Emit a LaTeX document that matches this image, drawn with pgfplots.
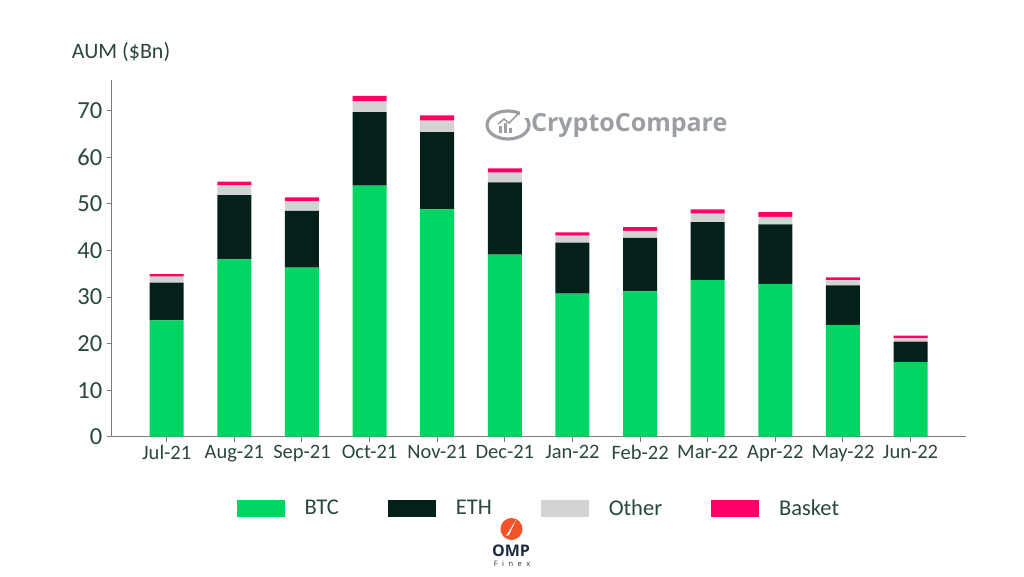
\documentclass[border=0pt]{standalone}
\usepackage{pgfplots}
\pgfplotsset{compat=1.18}
\usepackage{fontspec}
\setmainfont{Carlito}
\newfontfamily\logofont{Open Sans}
\definecolor{btc}{HTML}{00D564}
\definecolor{eth}{HTML}{03201A}
\definecolor{oth}{HTML}{D3D3D3}
\definecolor{bsk}{HTML}{FF0066}
\definecolor{txt}{HTML}{2A4640}
\definecolor{axc}{HTML}{7A7A7A}
\definecolor{wm}{HTML}{9B9EA3}
\definecolor{omp}{HTML}{F0522A}
\definecolor{ompn}{HTML}{1E2B45}
\begin{document}
\begin{tikzpicture}[x=1pt,y=1pt]
\useasboundingbox (0,0) rectangle (1024,576);
% watermark
\draw[wm, line width=3.2pt] (508,451) ellipse (21 and 14);
\fill[white] (520,458) rectangle (534,470);
\fill[wm] (499,443) rectangle (502,450);
\fill[wm] (504,443) rectangle (507,453);
\fill[wm] (509,443) rectangle (512,448);
\draw[wm, line width=1.6pt] (498,452) -- (504,457) -- (509,453) -- (518,462);
\node[anchor=west, inner sep=0pt, text=wm, font=\logofont\bfseries\fontsize{25}{30}\selectfont] at (531,451) {CryptoCompare};
% OMP Finex logo
\fill[omp] (511.5,47) circle (11);
\fill[white] (516,56) -- (506,40) -- (509,41) -- cycle;
\node[inner sep=0pt, text=ompn, font=\logofont\bfseries\fontsize{16}{18}\selectfont] at (511,25) {OMP};
\node[inner sep=0pt, text=ompn, font=\logofont\fontsize{7.5}{9}\selectfont\addfontfeature{LetterSpace=60}] at (512,12) {Finex};
\begin{axis}[
  at={(111.7pt,139.3pt)}, anchor=south west,
  scale only axis, width=854.3pt, height=356.7pt,
  ybar stacked, bar width=34pt,
  xmin=-0.814, xmax=11.82, ymin=0, ymax=76.6,
  axis x line*=bottom, axis y line*=left,
  axis line style={axc, line width=1.3pt},
  xtick={0,...,11},
  xticklabels={Jul-21,Aug-21,Sep-21,Oct-21,Nov-21,Dec-21,Jan-22,Feb-22,Mar-22,Apr-22,May-22,Jun-22},
  ytick={0,10,...,70},
  tick align=outside, major tick length=5pt,
  tick style={axc, line width=1pt},
  x tick label style={font=\fontsize{20.5}{24}\selectfont, text=txt},
  y tick label style={font=\fontsize{24.5}{28}\selectfont, text=txt},
  yticklabel style={xshift=-1pt},
  /pgf/number format/assume math mode=true,
  legend columns=4,
  legend style={at={(0.1460,-0.200)}, anchor=west, draw=none, fill=none,
    inner sep=0pt, font=\fontsize{22.5}{26}\selectfont, text=txt,
    /tikz/every odd column/.append style={column sep=20pt},
    /tikz/every even column/.append style={column sep=49pt},
    nodes={inner sep=0pt}},
  legend cell align=left,
  clip=false,
]
\pgfplotsset{legend image code/.code={\fill[#1] (0pt,-8.5pt) rectangle (48pt,8.5pt);}}
\addplot[fill=btc, draw=none] coordinates {(0,25.0) (1,38.1) (2,36.3) (3,53.9) (4,48.8) (5,39.1) (6,30.7) (7,31.2) (8,33.6) (9,32.8) (10,24.0) (11,16.0)};
\addplot[fill=eth, draw=none] coordinates {(0,8.1) (1,13.8) (2,12.2) (3,15.8) (4,16.6) (5,15.5) (6,11.0) (7,11.5) (8,12.5) (9,12.8) (10,8.5) (11,4.4)};
\addplot[fill=oth, draw=none] coordinates {(0,1.3) (1,2.1) (2,2.1) (3,2.3) (4,2.5) (5,2.1) (6,1.5) (7,1.5) (8,1.8) (9,1.6) (10,1.1) (11,0.7)};
\addplot[fill=bsk, draw=none] coordinates {(0,0.5) (1,0.8) (2,0.8) (3,1.2) (4,1.1) (5,0.9) (6,0.7) (7,0.8) (8,0.9) (9,1.0) (10,0.6) (11,0.6)};
\legend{BTC,ETH,Other,Basket}
\end{axis}
\node[anchor=west, inner sep=0pt, text=txt, font=\fontsize{22}{26}\selectfont] at (71.7,524.3) {AUM (\$Bn)};
\end{tikzpicture}
\end{document}
